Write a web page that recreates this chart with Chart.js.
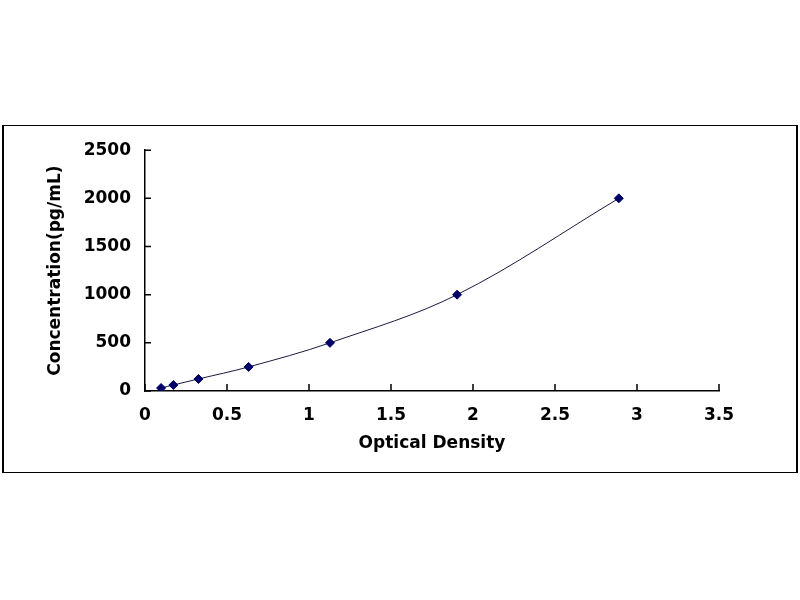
<!DOCTYPE html>
<html>
<head>
<meta charset="utf-8">
<script src="https://cdn.jsdelivr.net/npm/chart.js@4/dist/chart.umd.min.js"></script>
<style>
  body { margin: 0; background: #fff; }
  #box {
    position: absolute; left: 2px; top: 125px;
    width: 796px; height: 348px;
    box-sizing: border-box;
    border: 1px solid #000; border-left-width: 2px; border-right-width: 2px;
  }
  #wrap { position: relative; width: 792px; height: 346px; }
</style>
</head>
<body>
<div id="box"><div id="wrap"><canvas id="myChart"></canvas></div></div>
<script>
// standard curve: optical density vs concentration
const opticalDensity = [0.098, 0.173, 0.326, 0.632, 1.128, 1.903, 2.889];
const concentration = [31.25, 62.5, 125, 250, 500, 1000, 2000];
const xTicks = [0, 0.5, 1, 1.5, 2, 2.5, 3, 3.5];
const yTicks = [0, 500, 1000, 1500, 2000, 2500];

const points = opticalDensity.map((x, i) => ({ x: x, y: concentration[i] }));
const font = { family: "'DejaVu Sans', sans-serif", size: 17, weight: 'bold' };

// short inward ticks like the original
const innerTicks = {
  id: 'innerTicks',
  afterDraw(chart) {
    const ctx = chart.ctx;
    const xs = chart.scales.x, ys = chart.scales.y;
    const area = chart.chartArea;
    ctx.save();
    ctx.strokeStyle = '#000';
    ctx.lineWidth = 1.5;
    ctx.beginPath();
    xTicks.forEach(v => {
      const px = xs.getPixelForValue(v);
      ctx.moveTo(px, area.bottom);
      ctx.lineTo(px, area.bottom - 7);
    });
    yTicks.forEach(v => {
      const py = ys.getPixelForValue(v);
      ctx.moveTo(area.left, py);
      ctx.lineTo(area.left + 6, py);
    });
    ctx.stroke();
    ctx.restore();
  }
};

const ctx = document.getElementById('myChart').getContext('2d');
const myChart = new Chart(ctx, {
  type: 'scatter',
  data: {
    datasets: [{
      data: points,
      showLine: true,
      borderColor: '#1a1a40',
      borderWidth: 1,
      tension: 0.35,
      pointStyle: 'rectRot',
      pointRadius: 4.5,
      pointBackgroundColor: '#000066',
      pointBorderColor: '#000066'
    }]
  },
  options: {
    responsive: true,
    maintainAspectRatio: false,
    animation: false,
    layout: { padding: { top: 20, right: 77, left: 37, bottom: 14 } },
    plugins: { legend: { display: false }, tooltip: { enabled: false } },
    scales: {
      x: {
        type: 'linear',
        min: 0, max: 3.5,
        afterBuildTicks: s => { s.ticks = xTicks.map(v => ({ value: v })); },
        afterFit: s => { s.height = 67; },
        grid: { display: false, drawOnChartArea: false, drawTicks: false },
        border: { color: '#000', width: 1.5 },
        ticks: { color: '#000', font: font, padding: 14, maxRotation: 0, callback: v => String(v) },
        title: { display: true, text: 'Optical Density', color: '#000', font: font, padding: { top: 6 } }
      },
      y: {
        min: 0, max: 2500,
        afterBuildTicks: s => { s.ticks = yTicks.map(v => ({ value: v })); },
        afterFit: s => { s.width = 104; },
        grid: { display: false, drawOnChartArea: false, drawTicks: false },
        border: { color: '#000', width: 1.5 },
        ticks: { color: '#000', font: font, padding: 14, callback: v => String(v) },
        title: { display: true, text: 'Concentration(pg/mL)', color: '#000', font: font, padding: { bottom: 4 } }
      }
    }
  },
  plugins: [innerTicks]
});
</script>
</body>
</html>
